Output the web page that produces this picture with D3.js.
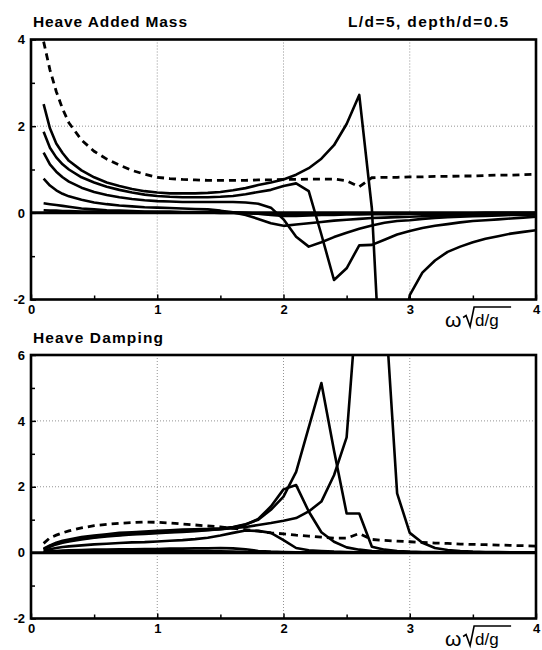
<!DOCTYPE html>
<html>
<head>
<meta charset="utf-8">
<script src="https://cdn.jsdelivr.net/npm/d3@7"></script>
<style>
body { margin: 0; background: #fff; }
svg { display: block; }
text { font-family: "Liberation Sans", Arial, Helvetica, sans-serif; fill: #000; }
</style>
</head>
<body>
<script>
// non-dimensional frequency  w*sqrt(d/g)
var freq = [0.1,0.15,0.2,0.25,0.3,0.4,0.5,0.6,0.7,0.8,0.9,1.0,
            1.1,1.2,1.3,1.4,1.5,1.6,1.7,1.8,1.9,2.0,
            2.1,2.2,2.3,2.4,2.5,2.6,2.7,2.8,2.9,3.0,
            3.1,3.2,3.3,3.4,3.5,3.6,3.7,3.8,3.9,4.0];

// heave added mass
var massDash = [3.95,3.3,2.8,2.4,2.08,1.68,1.42,1.24,1.1,0.98,0.89,0.82,
                0.79,0.77,0.76,0.75,0.75,0.75,0.75,0.76,0.76,0.77,
                0.77,0.78,0.78,0.78,0.74,0.6,0.81,0.82,0.82,0.83,
                0.83,0.84,0.84,0.85,0.85,0.86,0.87,0.87,0.88,0.89];
var massA = [2.51,1.95,1.6,1.38,1.2,0.98,0.82,0.7,0.62,0.55,0.5,0.47,
             0.45,0.45,0.45,0.46,0.48,0.52,0.57,0.64,0.7,0.77,
             0.88,1.03,1.25,1.56,2.05,2.72,0.1,-5.5,-3.8,-1.9,
             -1.38,-1.1,-0.9,-0.78,-0.68,-0.6,-0.54,-0.48,-0.44,-0.4];
var massB = [1.87,1.5,1.28,1.12,1.0,0.82,0.7,0.6,0.53,0.47,0.42,0.39,
             0.37,0.36,0.36,0.36,0.37,0.39,0.43,0.48,0.53,0.62,
             0.68,0.5,-0.5,-1.55,-1.28,-0.75,-0.74,-0.62,-0.5,-0.42,
             -0.35,-0.3,-0.26,-0.22,-0.19,-0.17,-0.15,-0.13,-0.11,-0.09];
var massC = [1.39,1.12,0.95,0.82,0.72,0.58,0.48,0.41,0.36,0.32,0.29,0.27,
             0.26,0.25,0.25,0.25,0.25,0.25,0.24,0.21,0.12,-0.15,
             -0.55,-0.78,-0.68,-0.56,-0.46,-0.37,-0.29,-0.23,-0.19,-0.17,
             -0.14,-0.12,-0.1,-0.09,-0.08,-0.07,-0.06,-0.05,-0.05,-0.04];
var massD = [0.79,0.63,0.52,0.44,0.38,0.3,0.24,0.2,0.17,0.15,0.13,0.12,
             0.11,0.1,0.09,0.08,0.05,0.01,-0.05,-0.14,-0.24,-0.3,
             -0.27,-0.24,-0.21,-0.18,-0.16,-0.14,-0.12,-0.11,-0.1,-0.09,
             -0.08,-0.07,-0.06,-0.06,-0.05,-0.05,-0.05,-0.04,-0.04,-0.04];
var massE = [0.22,0.2,0.18,0.16,0.14,0.1,0.08,0.06,0.05,0.04,0.03,0.03,
             0.03,0.02,0.02,0.02,0.02,0.01,0.0,-0.02,-0.05,-0.07,
             -0.07,-0.06,-0.05,-0.05,-0.04,-0.04,-0.03,-0.03,-0.03,-0.02,
             -0.02,-0.02,-0.02,-0.02,-0.01,-0.01,-0.01,-0.01,-0.01,-0.01];
var massF = [0.06,0.05,0.05,0.04,0.04,0.03,0.03,0.02,0.02,0.02,0.02,0.01,
             0.01,0.01,0.01,0.01,0.0,0.0,-0.01,-0.02,-0.03,-0.03,
             -0.03,-0.03,-0.02,-0.02,-0.02,-0.02,-0.02,-0.01,-0.01,-0.01,
             -0.01,-0.01,-0.01,-0.01,-0.01,0.0,0.0,0.0,0.0,0.0];

// heave damping
var dampDash = [0.28,0.45,0.53,0.6,0.66,0.75,0.82,0.86,0.89,0.91,0.93,0.92,
                0.9,0.87,0.84,0.81,0.78,0.74,0.7,0.65,0.6,0.57,
                0.53,0.5,0.47,0.44,0.44,0.58,0.4,0.37,0.35,0.33,
                0.31,0.29,0.28,0.26,0.25,0.24,0.23,0.22,0.21,0.2];
var dampA = [0.1,0.2,0.27,0.32,0.36,0.42,0.47,0.51,0.54,0.57,0.59,0.61,
             0.63,0.65,0.67,0.69,0.71,0.74,0.78,0.84,0.9,0.97,
             1.05,1.25,1.55,2.35,3.5,8.5,12,7.8,1.8,0.6,
             0.3,0.14,0.08,0.05,0.03,0.02,0.02,0.01,0.01,0.01];
var dampB = [0.12,0.22,0.3,0.36,0.4,0.47,0.52,0.56,0.6,0.62,0.64,0.66,
             0.68,0.7,0.71,0.72,0.74,0.78,0.86,1.0,1.3,1.7,
             2.45,3.8,5.15,3.1,1.19,1.19,0.18,0.09,0.05,0.03,
             0.02,0.02,0.01,0.01,0.01,0.01,0.01,0.01,0.01,0.01];
var dampC = [0.1,0.18,0.25,0.3,0.34,0.4,0.45,0.49,0.52,0.55,0.57,0.59,
             0.61,0.63,0.65,0.68,0.71,0.76,0.85,1.02,1.4,1.92,
             2.05,1.25,0.62,0.33,0.16,0.09,0.05,0.03,0.02,0.01,
             0.01,0.01,0.01,0.01,0.01,0.01,0.01,0.01,0.01,0.01];
var dampD = [0.05,0.1,0.14,0.17,0.19,0.22,0.25,0.27,0.29,0.31,0.32,0.34,
             0.36,0.38,0.41,0.45,0.52,0.6,0.67,0.66,0.6,0.38,
             0.14,0.07,0.05,0.03,0.02,0.01,0.01,0.01,0.01,0.01,
             0,0,0,0,0,0,0,0,0,0];
var dampE = [0.02,0.04,0.05,0.06,0.07,0.08,0.09,0.09,0.1,0.1,0.11,0.11,
             0.12,0.12,0.13,0.13,0.14,0.13,0.1,0.05,0.03,0.02,
             0.01,0.01,0.01,0,0,0,0,0,0,0,
             0,0,0,0,0,0,0,0,0,0];
var dampF = [0.01,0.02,0.03,0.03,0.03,0.04,0.04,0.04,0.04,0.04,0.04,0.04,
             0.04,0.04,0.04,0.04,0.04,0.03,0.02,0.01,0.01,0,
             0,0,0,0,0,0,0,0,0,0,
             0,0,0,0,0,0,0,0,0,0];

var xTicks = [0, 1, 2, 3, 4];
var xMinor = [0.5, 1.5, 2.5, 3.5];
var xGrid = [1, 2, 3];

var svg = d3.select("body").append("svg")
            .attr("width", 542)
            .attr("height", 650);

var x = d3.scaleLinear().domain([0, 4]).range([31, 536]);

function panel(id, yDomain, yRange, yTicks, yMinor, yGrid, solid, dashed) {
  var y = d3.scaleLinear().domain(yDomain).range(yRange);
  var g = svg.append("g");
  var top = yRange[1], bottom = yRange[0];

  g.append("clipPath").attr("id", id)
    .append("rect")
      .attr("x", x(0)).attr("y", top)
      .attr("width", x(4) - x(0)).attr("height", bottom - top);

  // dotted grid
  g.selectAll(".vgrid").data(xGrid).enter().append("line")
      .attr("x1", d => x(d)).attr("x2", d => x(d))
      .attr("y1", top).attr("y2", bottom)
      .attr("stroke", "#777").attr("stroke-width", 0.8)
      .attr("stroke-dasharray", "1,2");
  g.selectAll(".hgrid").data(yGrid).enter().append("line")
      .attr("y1", d => y(d)).attr("y2", d => y(d))
      .attr("x1", x(0)).attr("x2", x(4))
      .attr("stroke", "#777").attr("stroke-width", 0.8)
      .attr("stroke-dasharray", "1,2");

  // zero line
  g.append("line")
      .attr("x1", x(0)).attr("x2", x(4))
      .attr("y1", y(0)).attr("y2", y(0))
      .attr("stroke", "#000").attr("stroke-width", 3);

  var line = d3.line()
      .x((d, i) => x(freq[i]))
      .y(d => y(d));

  var curves = g.append("g").attr("clip-path", "url(#" + id + ")");
  curves.selectAll(".solid").data(solid).enter().append("path")
      .attr("d", line)
      .attr("fill", "none").attr("stroke", "#000")
      .attr("stroke-width", 2.6).attr("stroke-linejoin", "round");
  curves.append("path")
      .attr("d", line(dashed))
      .attr("fill", "none").attr("stroke", "#000")
      .attr("stroke-width", 2.8).attr("stroke-dasharray", "7,5");

  // frame
  g.append("rect")
      .attr("x", x(0)).attr("y", top)
      .attr("width", x(4) - x(0)).attr("height", bottom - top)
      .attr("fill", "none").attr("stroke", "#000").attr("stroke-width", 2.6);

  // axes
  g.append("g").attr("transform", "translate(0," + bottom + ")")
      .call(d3.axisBottom(x).tickValues(xTicks).tickSize(-5).tickPadding(5)
            .tickFormat(d => String(d)));
  g.append("g").attr("transform", "translate(0," + bottom + ")")
      .call(d3.axisBottom(x).tickValues(xMinor).tickSize(-4).tickFormat(""));
  g.append("g").attr("transform", "translate(" + x(0) + ",0)")
      .call(d3.axisLeft(y).tickValues(yTicks).tickSize(-5).tickPadding(6)
            .tickFormat(d => String(d)));
  g.append("g").attr("transform", "translate(" + x(0) + ",0)")
      .call(d3.axisLeft(y).tickValues(yMinor).tickSize(-4).tickFormat(""));

  g.selectAll(".domain").remove();
  g.selectAll(".tick line").attr("stroke", "#000").attr("stroke-width", 1.5);
  g.selectAll(".tick text")
      .attr("font-size", 13).attr("font-weight", "bold")
      .attr("font-family", "'Liberation Sans', Arial, sans-serif");

  // x label  w sqrt(d/g)
  var lx = x(3.28), ly = bottom + 27;
  g.append("text").attr("x", lx).attr("y", ly)
      .attr("font-size", 21).text("ω");
  g.append("path")
      .attr("d", "M" + (lx + 18) + "," + (ly - 9) + " l3,-2 l4,11 l4,-19.5 l37,0")
      .attr("fill", "none").attr("stroke", "#000").attr("stroke-width", 1.6);
  g.append("text").attr("x", lx + 30).attr("y", ly - 1)
      .attr("font-size", 17).text("d/g");

  return y;
}

panel("clipMass", [-2, 4], [299.5, 39.5], [-2, 0, 2, 4], [-1, 1, 3], [2],
      [massA, massB, massC, massD, massE, massF], massDash);
panel("clipDamp", [-2, 6], [618.5, 355], [-2, 0, 2, 4, 6], [-1, 1, 3, 5], [2, 4],
      [dampA, dampB, dampC, dampD, dampE, dampF], dampDash);

svg.append("text").attr("x", 33).attr("y", 27)
    .attr("font-size", 15.5).attr("font-weight", "bold")
    .attr("textLength", 154).attr("lengthAdjust", "spacing")
    .text("Heave Added Mass");
svg.append("text").attr("x", 348).attr("y", 27)
    .attr("font-size", 15.5).attr("font-weight", "bold")
    .attr("textLength", 160).attr("lengthAdjust", "spacing")
    .text("L/d=5, depth/d=0.5");
svg.append("text").attr("x", 33).attr("y", 343)
    .attr("font-size", 15.5).attr("font-weight", "bold")
    .attr("textLength", 130).attr("lengthAdjust", "spacing")
    .text("Heave Damping");
</script>
</body>
</html>
